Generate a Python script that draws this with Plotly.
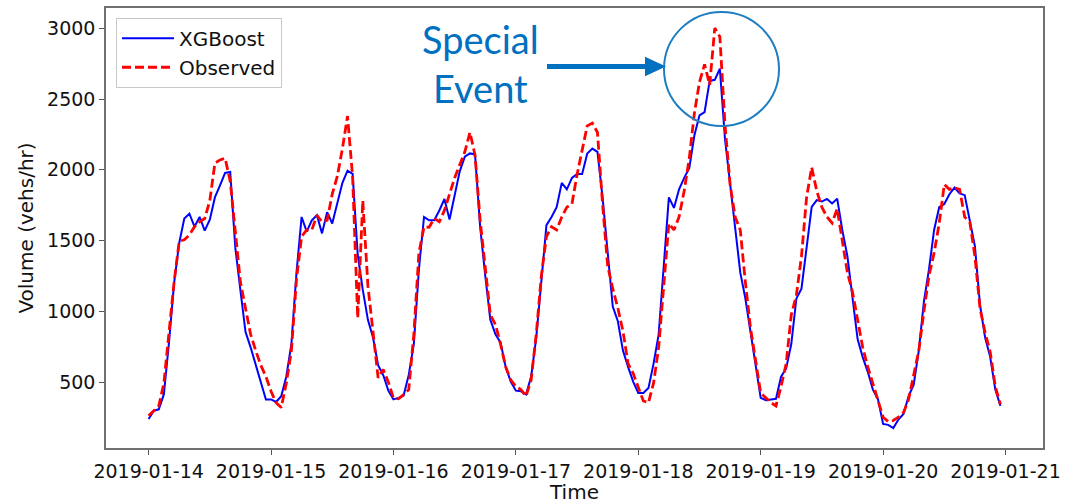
import pandas as pd
import plotly.graph_objects as go

start_time = "2019-01-14 00:00"
n_hours = 168

xgboost = [
    240, 297, 308, 415, 780, 1200, 1483, 1656, 1690, 1598, 1667, 1570,
    1648, 1805, 1890, 1978, 1985, 1450, 1150, 856, 746, 628, 500, 378,
    378, 360, 400, 540, 770, 1275, 1667, 1563, 1644, 1679, 1551, 1701,
    1621, 1763, 1908, 1994, 1971, 1400, 1150, 940, 815, 620, 550, 440,
    378, 389, 406, 551, 769, 1299, 1667, 1644, 1644, 1713, 1794, 1649,
    1828, 1989, 2093, 2116, 2109, 1598, 1252, 941, 838, 781, 608, 504,
    440, 436, 413, 539, 815, 1229, 1609, 1667, 1736, 1908, 1862, 1943,
    1971, 1971, 2116, 2150, 2127, 1805, 1414, 1034, 930, 723, 608, 504,
    424, 424, 458, 631, 838, 1345, 1805, 1731, 1863, 1943, 2012, 2242,
    2385, 2408, 2628, 2636, 2714, 2219, 1897, 1575, 1275, 1091, 861, 608,
    389, 373, 378, 382, 539, 597, 769, 1091, 1160, 1436, 1738, 1786,
    1776, 1794, 1762, 1796, 1575, 1390, 1114, 804, 677, 573, 447, 378,
    205, 198, 176, 236, 275, 401, 482, 723, 1068, 1298, 1575, 1736,
    1759, 1828, 1874, 1833, 1821, 1644, 1460, 1045, 815, 677, 447, 332,
]

observed = [
    263, 297, 332, 493, 861, 1207, 1495, 1506, 1540, 1598, 1632, 1656,
    1782, 2047, 2070, 2082, 1920, 1575, 1207, 1022, 838, 723, 620, 539,
    436, 355, 320, 493, 723, 1229, 1529, 1575, 1575, 1679, 1632, 1644,
    1828, 1955, 2150, 2380, 1950, 953, 1782, 1180, 840, 530, 590, 500,
    389, 382, 412, 447, 838, 1414, 1598, 1594, 1656, 1633, 1713, 1828,
    1943, 2035, 2127, 2265, 2104, 1644, 1299, 976, 907, 769, 608, 516,
    470, 447, 401, 516, 838, 1252, 1529, 1598, 1575, 1667, 1736, 1759,
    1966, 2150, 2311, 2330, 2265, 1759, 1322, 1160, 1022, 861, 631, 562,
    470, 367, 355, 493, 746, 1184, 1621, 1575, 1667, 1851, 2081, 2400,
    2620, 2745, 2600, 3002, 2940, 2320, 1897, 1667, 1575, 1206, 884, 654,
    424, 389, 355, 332, 470, 631, 976, 1114, 1390, 1805, 2018, 1850,
    1736, 1667, 1625, 1725, 1483, 1275, 1137, 953, 746, 608, 493, 378,
    252, 222, 229, 252, 286, 378, 539, 723, 999, 1252, 1413, 1621,
    1897, 1862, 1874, 1862, 1667, 1632, 1390, 1022, 850, 712, 470, 343,
]

y_ticks = [500, 1000, 1500, 2000, 2500, 3000]
x_tick_labels = ["2019-01-14", "2019-01-15", "2019-01-16", "2019-01-17",
                 "2019-01-18", "2019-01-19", "2019-01-20", "2019-01-21"]

times = pd.date_range(start_time, periods=n_hours, freq="h")

# matplotlib-like 5% margins
t0, t1 = times[0], times[-1]
tspan = t1 - t0
x_range = [t0 - tspan * 0.05, t1 + tspan * 0.05]
ymin = min(min(xgboost), min(observed))
ymax = max(max(xgboost), max(observed))
ypad = (ymax - ymin) * 0.05
y_range = [ymin - ypad, ymax + ypad]

W, H = 1081, 504
ML, MR, MT, MB = 106, 38, 6, 47
PW, PH = W - ML - MR, H - MT - MB


def px(x):
    return (x - ML) / PW


def py(y):
    return (H - MB - y) / PH


FONT = "DejaVu Sans"
blue_note = "#0070C0"

fig = go.Figure()
fig.add_trace(go.Scatter(x=times, y=xgboost, mode="lines", name="XGBoost",
                         line=dict(color="#0000FF", width=2)))
fig.add_trace(go.Scatter(x=times, y=observed, mode="lines", name="Observed",
                         line=dict(color="#FF0000", width=2.8, dash="9px,4px")))

fig.update_layout(
    width=W, height=H,
    margin=dict(l=ML, r=MR, t=MT, b=MB, pad=0),
    paper_bgcolor="white", plot_bgcolor="white",
    font=dict(family=FONT, size=19, color="#111111"),
    showlegend=True,
    legend=dict(x=px(116), y=py(16), xanchor="left", yanchor="top",
                bgcolor="white", bordercolor="#c8c8c8", borderwidth=1,
                font=dict(family=FONT, size=20, color="#111111"),
                tracegroupgap=0, itemwidth=52),
    xaxis=dict(
        range=x_range, showgrid=False, zeroline=False,
        tickmode="array", tickvals=pd.to_datetime(x_tick_labels),
        ticktext=x_tick_labels,
        ticks="outside", ticklen=5, tickcolor="#555555", tickwidth=1,
        showline=True, linecolor="#707070", linewidth=1.5, mirror=True,
        tickfont=dict(family=FONT, size=19, color="#111111"),
        title=dict(text="Time", font=dict(family=FONT, size=20), standoff=2),
    ),
    yaxis=dict(
        range=y_range, showgrid=False, zeroline=False,
        tickmode="array", tickvals=y_ticks,
        ticks="outside", ticklen=5, tickcolor="#555555", tickwidth=1,
        showline=True, linecolor="#707070", linewidth=1.5, mirror=True,
        tickfont=dict(family=FONT, size=19, color="#111111"),
        title=dict(text="Volume (vehs/hr)", font=dict(family=FONT, size=20), standoff=8),
    ),
)

# "Special Event" callout
fig.add_annotation(x=px(480), y=py(63), xref="paper", yref="paper",
                   text="Special<br>Event", showarrow=False,
                   xanchor="center", yanchor="middle",
                   font=dict(family="Lato", size=38, color=blue_note))
# arrow shaft
fig.add_shape(type="line", xref="paper", yref="paper",
              x0=px(547), y0=py(66), x1=px(648), y1=py(66),
              line=dict(color=blue_note, width=5))
# arrow head
fig.add_shape(type="path", xref="paper", yref="paper",
              path=f"M {px(645)} {py(56)} L {px(666)} {py(66)} L {px(645)} {py(76)} Z",
              fillcolor=blue_note, line=dict(color=blue_note, width=0))
# circle around the event
fig.add_shape(type="circle", xref="paper", yref="paper",
              x0=px(664), x1=px(779), y0=py(127), y1=py(10),
              line=dict(color="#1F7DC1", width=2), fillcolor="rgba(0,0,0,0)")

fig.write_html("out.html")
